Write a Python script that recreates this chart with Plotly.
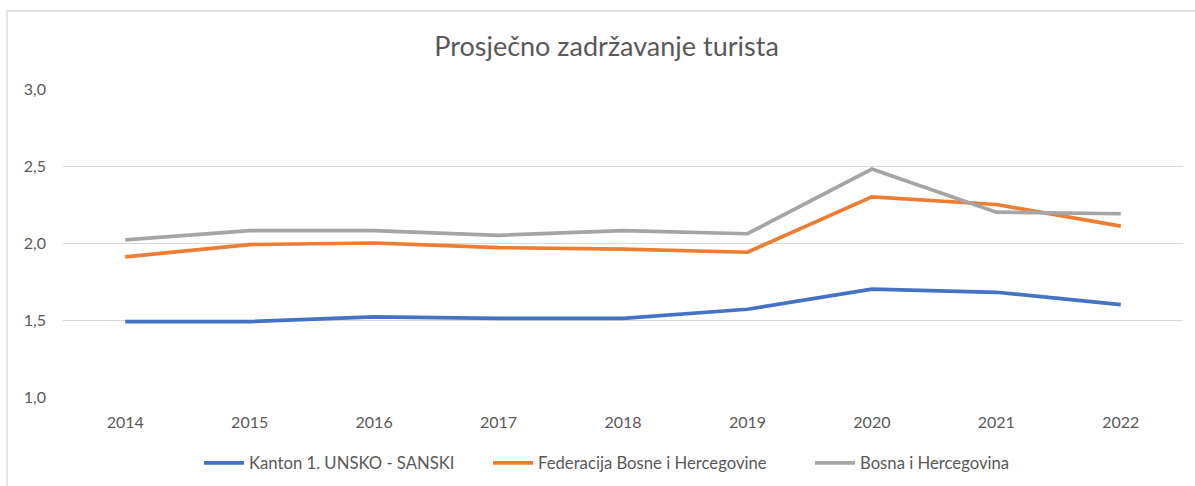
import plotly.graph_objects as go

years = ["2014", "2015", "2016", "2017", "2018", "2019", "2020", "2021", "2022"]
kanton = [1.49, 1.49, 1.52, 1.51, 1.51, 1.57, 1.70, 1.68, 1.60]
federacija = [1.91, 1.99, 2.00, 1.97, 1.96, 1.94, 2.30, 2.25, 2.11]
bih = [2.02, 2.08, 2.08, 2.05, 2.08, 2.06, 2.48, 2.20, 2.19]

series_names = ["Kanton 1. UNSKO - SANSKI", "Federacija Bosne i Hercegovine", "Bosna i Hercegovina"]
series_values = [kanton, federacija, bih]
colors = ["#4472C4", "#ED7D31", "#A5A5A5"]
legend_ids = ["legend", "legend2", "legend3"]
legend_px = [205, 494, 816]  # left pixel of each legend sample line

FONT = "Lato"
TXT = "#595959"

fig = go.Figure()
for name, vals, col, lg in zip(series_names, series_values, colors, legend_ids):
    fig.add_trace(go.Scatter(
        x=years, y=vals, name=name, mode="lines",
        line=dict(color=col, width=3.7), legend=lg,
        hoverinfo="x+y+name",
    ))

W, H = 1195, 486
L, R, T, B = 63, 12, 89, 89
pw = W - L - R
ph = H - T - B

LEG_OFF = 6
leg_y = (397 - 463) / ph
legends = {}
for lg, px in zip(legend_ids, legend_px):
    legends[lg] = dict(orientation="h", x=(px - LEG_OFF - L) / pw, xanchor="left",
                       y=leg_y, yanchor="middle", font=dict(size=16.7, color=TXT),
                       itemwidth=40, bgcolor="rgba(0,0,0,0)")

fig.update_layout(
    width=W, height=H,
    margin=dict(l=L, r=R, t=T, b=B, autoexpand=False),
    paper_bgcolor="white", plot_bgcolor="white",
    separators=", ",
    font=dict(family=FONT, color=TXT, size=16),
    title=dict(text="Prosječno zadržavanje turista", x=606.5 / W, xanchor="center",
               y=1 - 47 / H, yanchor="middle", yref="container",
               font=dict(family=FONT, size=27, color=TXT)),
    xaxis=dict(type="category", range=[-0.5, 8.5], showgrid=False, zeroline=False,
               showline=False, automargin=False,
               ticks="", tickfont=dict(size=16, color=TXT), ticklabelstandoff=14),
    yaxis=dict(range=[1.0, 3.0], dtick=0.5, tickformat=".1f", showgrid=True,
               gridcolor="#D9D9D9", gridwidth=1.3, zeroline=False, showline=False,
               automargin=False,
               ticks="", tickfont=dict(size=16, color=TXT), ticklabelstandoff=16),
    showlegend=True,
    **legends,
)

# chart-area border (partly outside the visible page, as in the reference)
fig.add_shape(type="rect", xref="paper", yref="paper",
              x0=(7 - L) / pw, x1=(W + 20 - L) / pw,
              y0=1 - (H + 20 - T) / ph, y1=1 + (T - 11) / ph,
              line=dict(color="#D9D9D9", width=1.3), fillcolor="rgba(0,0,0,0)", layer="below")

fig.write_html("out.html", config={"displayModeBar": False},
               post_script="document.body.style.margin='0';document.body.style.overflow='hidden';")
